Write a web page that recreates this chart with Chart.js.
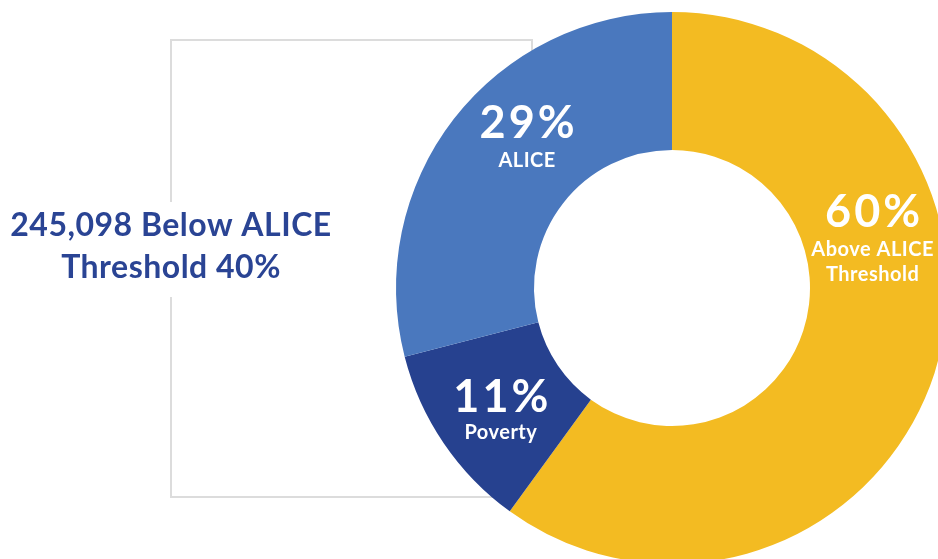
<!DOCTYPE html>
<html><head><meta charset="utf-8">
<script src="https://cdn.jsdelivr.net/npm/chart.js@4/dist/chart.umd.min.js"></script>
<style>
html,body{margin:0;padding:0;background:#fff;overflow:hidden;width:938px;height:559px}
#wrap{position:absolute;left:0;top:0;width:960px;height:580px}
</style></head>
<body>
<div id="wrap"><canvas id="c" width="960" height="580"></canvas></div>
<script>
const categories = ["Above ALICE Threshold", "Poverty", "ALICE"];
const values = [60, 11, 29];
const pctLabels = ["60%", "11%", "29%"];
const subLabels = [["Above ALICE", "Threshold"], ["Poverty"], ["ALICE"]];
const colors = ["#F3BB22", "#26418F", "#4A78BE"];
const sideText = ["245,098 Below ALICE", "Threshold 40%"];

// label offsets (fraction of outer radius) relative to the donut centre
const labelPos = [[0.727, -0.22], [-0.62, 0.45], [-0.525, -0.544]];
const subOffset = [29, 27, 29];

const bracket = {
  id: 'bracket',
  beforeDatasetsDraw(chart) {
    const ctx = chart.ctx;
    ctx.save();
    ctx.strokeStyle = '#dcdcdc';
    ctx.lineWidth = 2;
    ctx.beginPath();
    ctx.moveTo(171, 202); ctx.lineTo(171, 40); ctx.lineTo(532, 40); ctx.lineTo(532, 120);
    ctx.moveTo(171, 297); ctx.lineTo(171, 497); ctx.lineTo(520, 497);
    ctx.stroke();
    ctx.restore();
  },
  afterDraw(chart) {
    const ctx = chart.ctx;
    const arc = chart.getDatasetMeta(0).data[0];
    const cx = arc.x, cy = arc.y, R = arc.outerRadius;
    ctx.save();
    ctx.textAlign = 'center';
    ctx.textBaseline = 'alphabetic';
    // side text
    ctx.fillStyle = '#2A4494';
    ctx.font = 'bold 32px Lato';
    ctx.letterSpacing = '0.5px';
    ctx.fillText(sideText[0], 171, 236);
    ctx.fillText(sideText[1], 171, 278);
    // slice labels
    ctx.fillStyle = '#ffffff';
    values.forEach((v, i) => {
      const x = cx + labelPos[i][0] * R;
      const y = cy + labelPos[i][1] * R;
      ctx.font = 'bold 45px Lato';
      ctx.letterSpacing = '3px';
      ctx.fillText(pctLabels[i], x + 1.5, y);
      ctx.font = 'bold 20px Lato';
      ctx.letterSpacing = '0.5px';
      subLabels[i].forEach((s, j) => ctx.fillText(s, x, y + subOffset[i] + j * 25));
    });
    ctx.restore();
  }
};

new Chart(document.getElementById('c'), {
  type: 'doughnut',
  data: {
    labels: categories,
    datasets: [{ data: values, backgroundColor: colors, borderWidth: 0, hoverOffset: 0 }]
  },
  options: {
    responsive: false,
    animation: false,
    cutout: '50%',
    layout: { padding: { left: 396, top: 12, right: 12, bottom: 16 } },
    plugins: { legend: { display: false }, tooltip: { enabled: false } }
  },
  plugins: [bracket]
});
</script>
</body></html>
